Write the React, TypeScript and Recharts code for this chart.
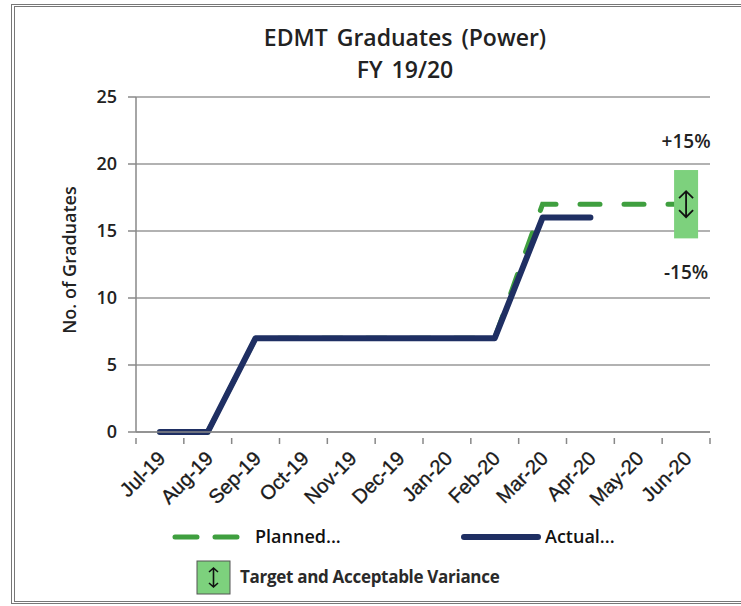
import { LineChart, Line, XAxis, YAxis, CartesianGrid, ReferenceArea } from "recharts";

const months = [
  "Jul-19", "Aug-19", "Sep-19", "Oct-19", "Nov-19", "Dec-19",
  "Jan-20", "Feb-20", "Mar-20", "Apr-20", "May-20", "Jun-20",
];
const planned = [0, 0, 7, 7, 7, 7, 7, 7, 17, 17, 17, 17];
const actual: (number | null)[] = [0, 0, 7, 7, 7, 7, 7, 7, 16, 16, null, null];
const yTicks = [0, 5, 10, 15, 20, 25];
const variance = 0.15;

const FONT = "'Open Sans', 'DejaVu Sans', sans-serif";
const TICK_FONT = "'Liberation Sans', Arial, sans-serif";
const GREEN = "#3f9f3f";
const NAVY = "#1f2f63";
const BOX = "#7dd17d";
const STEP = 574 / 12;

const target = planned[planned.length - 1];
const data = months.map((m, i) => ({ month: m, planned: planned[i], actual: actual[i] }));

function MonthTick(props: any) {
  const { x, y, payload, index } = props;
  const axisY = y - 8;
  const last = index === months.length - 1;
  const ax = x + 3;
  const ay = axisY + 18;
  return (
    <g>
      <line x1={x - STEP / 2} x2={x - STEP / 2} y1={axisY} y2={axisY + 6} stroke="#888" strokeWidth={1.5} />
      {last && <line x1={x + STEP / 2} x2={x + STEP / 2} y1={axisY} y2={axisY + 6} stroke="#888" strokeWidth={1.5} />}
      <text x={ax} y={ay} transform={`rotate(-45, ${ax}, ${ay})`}
            textAnchor="end" dominantBaseline="middle" fontSize={20}
            fontFamily={TICK_FONT} fill="#1a1a1a" stroke="#1a1a1a" strokeWidth={0.35}>
        {payload.value}
      </text>
    </g>
  );
}

function VarianceBox(p: any) {
  const cx = p.x + p.width / 2;
  const cy = p.y + p.height / 2;
  const w = 24;
  return (
    <g>
      <rect x={cx - w / 2} y={p.y} width={w} height={p.height} fill={BOX} />
      <path d={`M${cx},${cy - 13} L${cx},${cy + 13} M${cx - 7},${cy - 6} L${cx},${cy - 13} L${cx + 7},${cy - 6} M${cx - 7},${cy + 6} L${cx},${cy + 13} L${cx + 7},${cy + 6}`}
            stroke="#111" strokeWidth={1.8} fill="none" />
      <text x={cx} y={p.y - 22} textAnchor="middle" fontSize={19} fontWeight={600} fontFamily={FONT} fill="#222">+15%</text>
      <text x={cx} y={p.y + p.height + 41} textAnchor="middle" fontSize={19} fontWeight={600} fontFamily={FONT} fill="#222">-15%</text>
    </g>
  );
}

export default function App() {
  return (
    <div style={{ position: "absolute", left: 0, top: 0, width: 741, height: 606, background: "#fff", overflow: "hidden", fontFamily: FONT }}>
      {/* chart frame */}
      <div style={{ position: "absolute", left: 11, top: 4, width: 760, height: 594,
                    borderTop: "3px double #777", borderLeft: "4px double #777", borderBottom: "3px double #777" }} />
      <div style={{ position: "absolute", left: 0, top: 21, width: 810, textAlign: "center",
                    fontSize: 23, fontWeight: 600, color: "#222", lineHeight: "32px", wordSpacing: 3 }}>
        EDMT Graduates (Power)<br />FY 19/20
      </div>

      <div style={{ position: "absolute", left: 0, top: 0 }}>
        <LineChart width={741} height={606} data={data}
                   margin={{ top: 97, right: 31, left: 96, bottom: 114 }}>
          <CartesianGrid vertical={false} stroke="#999" strokeWidth={1.5} />
          <XAxis dataKey="month" height={60} interval={0} padding={{ left: STEP / 2, right: STEP / 2 }}
                 axisLine={{ stroke: "#888", strokeWidth: 1.5 }} tickLine={false} tickMargin={8}
                 tick={<MonthTick />} />
          <YAxis width={40} domain={[0, 25]} ticks={yTicks} interval={0}
                 axisLine={{ stroke: "#888", strokeWidth: 1.5 }} tickLine={{ stroke: "#888", strokeWidth: 1.5 }}
                 tickSize={8} tickMargin={11}
                 tick={{ fontSize: 18, fontWeight: 600, fill: "#222", fontFamily: FONT }}
                 label={{ content: () => (
                   <text x={76} y={260} transform="rotate(-90, 76, 260)" textAnchor="middle"
                         fontSize={18} fontWeight={600} fontFamily={FONT} fill="#222">No. of Graduates</text>
                 ) }} />
          <Line dataKey="planned" stroke={GREEN} strokeWidth={5} strokeDasharray="20 24" strokeLinecap="round"
                dot={false} isAnimationActive={false} />
          <Line dataKey="actual" stroke={NAVY} strokeWidth={6} strokeLinecap="round" strokeLinejoin="round"
                dot={false} isAnimationActive={false} connectNulls={false} />
          <ReferenceArea x1={months[months.length - 1]} x2={months[months.length - 1]}
                         y1={target * (1 - variance)} y2={target * (1 + variance)}
                         shape={<VarianceBox />} zIndex={700} ifOverflow="visible" />
        </LineChart>
      </div>

      {/* legend */}
      <svg style={{ position: "absolute", left: 0, top: 515 }} width={741} height={86}>
        <line x1={175} x2={240} y1={22} y2={22} stroke={GREEN} strokeWidth={5} strokeDasharray="22 18" strokeLinecap="round" />
        <text x={255} y={28} fontSize={18} fontWeight={600} fontFamily={FONT} fill="#111">Planned...</text>
        <line x1={464} x2={538} y1={22} y2={22} stroke={NAVY} strokeWidth={6} strokeLinecap="round" />
        <text x={545} y={28} fontSize={18} fontWeight={600} fontFamily={FONT} fill="#111">Actual...</text>
        <rect x={197} y={46} width={33} height={33} fill={BOX} stroke="#555" strokeWidth={1} />
        <path d="M213.5,53 L213.5,72 M209,57 L213.5,53 L218,57 M209,68 L213.5,72 L218,68" stroke="#111" strokeWidth={1.6} fill="none" />
        <text x={240} y={68} fontSize={17} fontWeight={700} fontFamily={FONT} fill="#2a2a2a" letterSpacing={-0.3}>Target and Acceptable Variance</text>
      </svg>
    </div>
  );
}
